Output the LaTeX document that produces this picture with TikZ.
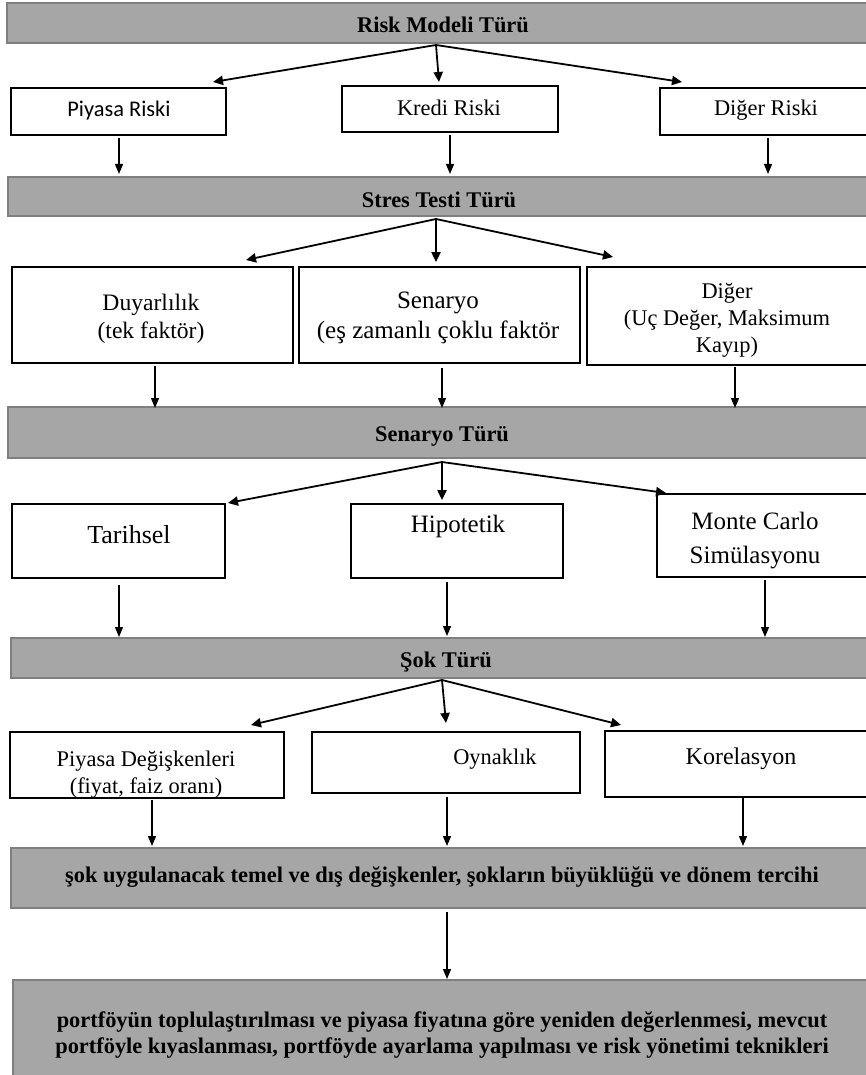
\documentclass[tikz,border=0pt]{standalone}
\usepackage{fontspec}
\setmainfont{Liberation Serif}
\newfontfamily\calibrifont{Carlito}
\usetikzlibrary{arrows.meta,calc}

\definecolor{barfill}{HTML}{A6A6A6}
\definecolor{barline}{HTML}{7F7F7F}

% rectangle node given by its pixel corners: name, x1, y1, x2, y2, style
\newcommand\flowbox[6]{%
  \node[#6, minimum width={(#4-#2)*0.5pt}, minimum height={(#5-#3)*0.5pt}]
    (#1) at ({(#2+#4)/2},{(#3+#5)/2}) {};%
}

\tikzset{
  bar/.style={fill=barfill, draw=barline, line width=0.8pt, inner sep=0pt, outer sep=0pt},
  wbox/.style={fill=white, draw=black, line width=0.9pt, inner sep=0pt, outer sep=0pt},
  lbl/.style={inner sep=0pt, anchor=base, align=center, font=\fontsize{11.2}{13.5}\selectfont},
  mlbl/.style={inner sep=0pt, anchor=center, align=center, font=\fontsize{11.2}{13.5}\selectfont},
  biglbl/.style={font=\fontsize{12.5}{15}\selectfont},
  blbl/.style={lbl, font=\bfseries\fontsize{11.2}{13.5}\selectfont},
  mblbl/.style={mlbl, font=\bfseries\fontsize{11.2}{13}\selectfont},
  darrow/.style={-{Triangle[length=5pt,width=4.6pt]}, line width=0.9pt},
  varrow/.style={-{Triangle[length=5pt,width=4pt]}, line width=0.6pt},
}

\begin{document}
\begin{tikzpicture}[x=0.5pt, y=-0.5pt]
\useasboundingbox (0,0) rectangle (866,1075);
\fill[white] (0,0) rectangle (866,1075);
\clip (0,0) rectangle (866,1075);

% level bars
\flowbox{bar1}{7}{3}{880}{43}{bar}
\flowbox{bar2}{8}{177}{880}{216}{bar}
\flowbox{bar3}{8}{407}{880}{458}{bar}
\flowbox{bar4}{11}{638}{880}{678}{bar}
\flowbox{bar5}{11}{848}{880}{908}{bar}
\flowbox{bar6}{13}{980}{880}{1090}{bar}

% risk model boxes
\flowbox{piyasa}{11}{88}{226}{135}{wbox}
\flowbox{kredi}{342}{86}{558}{132}{wbox}
\flowbox{digerA}{660}{88}{880}{135}{wbox}
% stress test boxes
\flowbox{duyar}{12}{267}{293}{363}{wbox}
\flowbox{senaryo}{299}{267}{580}{363}{wbox}
\flowbox{digerB}{587}{267}{880}{365}{wbox}
% scenario boxes
\flowbox{tarih}{12}{504}{225}{578}{wbox}
\flowbox{hipo}{351}{504}{563}{578}{wbox}
\flowbox{monte}{657}{494}{880}{577}{wbox}
% shock boxes
\flowbox{pdeg}{10}{732}{284}{798}{wbox}
\flowbox{oyn}{312}{732}{580}{793}{wbox}
\flowbox{kor}{605}{731}{880}{797}{wbox}

% texts
\node[blbl] (t-bar1) at (443,33) {Risk Modeli Türü};
\node[lbl, font=\calibrifont\fontsize{11.2}{13.5}\selectfont] (t-piyasa) at (119,117) {Piyasa Riski};
\node[lbl] (t-kredi) at (449,116) {Kredi Riski};
\node[lbl] (t-digerA) at (766,116) {Diğer Riski};

\node[blbl] (t-bar2) at (439,207) {Stres Testi Türü};
\node[mlbl, font=\fontsize{11.8}{14}\selectfont] (t-duyar) at (151,318.5) {Duyarlılık\\(tek faktör)};
\node[mlbl, biglbl] (t-senaryo) at (438,318) {Senaryo\\(eş zamanlı çoklu faktör};
\node[mlbl] (t-digerB) at (727,320) {Diğer\\(Uç Değer, Maksimum\\Kayıp)};

\node[blbl] (t-bar3) at (442,441) {Senaryo Türü};
\node[lbl, font=\fontsize{13}{15}\selectfont] (t-tarih) at (129,543) {Tarihsel};
\node[lbl, biglbl] (t-hipo) at (458,532) {Hipotetik};
\node[mlbl, biglbl] (t-monte) at (755,541) {Monte Carlo\\[2pt]Simülasyonu};

\node[blbl] (t-bar4) at (446,667) {Şok Türü};
\node[mlbl] (t-pdeg) at (146,774.5) {Piyasa Değişkenleri\\(fiyat, faiz oranı)};
\node[lbl] (t-oyn) at (495,764) {Oynaklık};
\node[lbl, font=\fontsize{12}{14}\selectfont] (t-kor) at (741,764) {Korelasyon};

\node[blbl] (t-bar5) at (442,882) {şok uygulanacak temel ve dış değişkenler, şokların büyüklüğü ve dönem tercihi};
\node[mblbl] (t-bar6) at (442,1035) {portföyün toplulaştırılması ve piyasa fiyatına göre yeniden değerlenmesi, mevcut\\portföyle kıyaslanması, portföyde ayarlama yapılması ve risk yönetimi teknikleri};

% branching arrows
\draw[darrow] ($(bar1.south)+(-7.5,2)$) -- ($(piyasa.north east)+(-13,-6)$);
\draw[darrow] ($(bar1.south)+(-7.5,2)$) -- ($(kredi.north)+(-11,-4)$);
\draw[darrow] ($(bar1.south)+(-7.5,2)$) -- ($(digerA.north west)+(22,-6)$);

\draw[darrow] ($(bar2.south)+(-8,3)$) -- ($(duyar.north east)+(-47,-7)$);
\draw[darrow] ($(bar2.south)+(-8,3)$) -- ($(senaryo.north)+(-3.5,-5)$);
\draw[darrow] ($(bar2.south)+(-8,3)$) -- ($(digerB.north west)+(26,-10)$);

\draw[darrow] ($(bar3.south)+(-2,4)$) -- ($(tarih.north east)+(3,-1)$);
\draw[darrow] ($(bar3.south)+(-2,4)$) -- ($(hipo.north)+(-15,-4)$);
\draw[darrow] ($(bar3.south)+(-2,4)$) -- ($(monte.north west)+(9,-1)$);

\draw[darrow] ($(bar4.south)+(-3.5,2)$) -- ($(pdeg.north east)+(-33,-7)$);
\draw[darrow] ($(bar4.south)+(-3.5,2)$) -- ($(oyn.north)+(0,-9)$);
\draw[darrow] ($(bar4.south)+(-3.5,2)$) -- ($(kor.north west)+(16,-6)$);

% converging arrows
\draw[varrow] ($(piyasa.south)+(0.5,3)$) -- ($(piyasa.south |- bar2.north)+(0.5,-3)$);
\draw[varrow] ($(kredi.south)+(0,3)$) -- ($(kredi.south |- bar2.north)+(0,-3)$);
\draw[varrow] ($(digerA.south)+(-2,3)$) -- ($(digerA.south |- bar2.north)+(-2,-3)$);

\draw[varrow] ($(duyar.south)+(2.5,3)$) -- ($(duyar.south |- bar3.north)+(2.5,1)$);
\draw[varrow] ($(senaryo.south)+(2.5,5)$) -- ($(senaryo.south |- bar3.north)+(2.5,1)$);
\draw[varrow] ($(digerB.south)+(1.5,2)$) -- ($(digerB.south |- bar3.north)+(1.5,1)$);

\draw[varrow] ($(tarih.south)+(0.5,7)$) -- ($(tarih.south |- bar4.north)+(0.5,-1)$);
\draw[varrow] ($(hipo.south)+(-10,4)$) -- ($(hipo.south |- bar4.north)+(-10,-2)$);
\draw[varrow] ($(monte.south)+(-3.5,3)$) -- ($(monte.south |- bar4.north)+(-3.5,-1)$);

\draw[varrow] ($(pdeg.south)+(5,2)$) -- ($(pdeg.south |- bar5.north)+(5,-2)$);
\draw[varrow] ($(oyn.south)+(1,4)$) -- ($(oyn.south |- bar5.north)+(1,-2)$);
\draw[varrow] ($(kor.south)+(0.5,1)$) -- ($(kor.south |- bar5.north)+(0.5,-2)$);

\draw[varrow] ($(bar5.south)+(1.5,4)$) -- ($(bar5.south |- bar6.north)+(1.5,-1)$);
\end{tikzpicture}
\end{document}
